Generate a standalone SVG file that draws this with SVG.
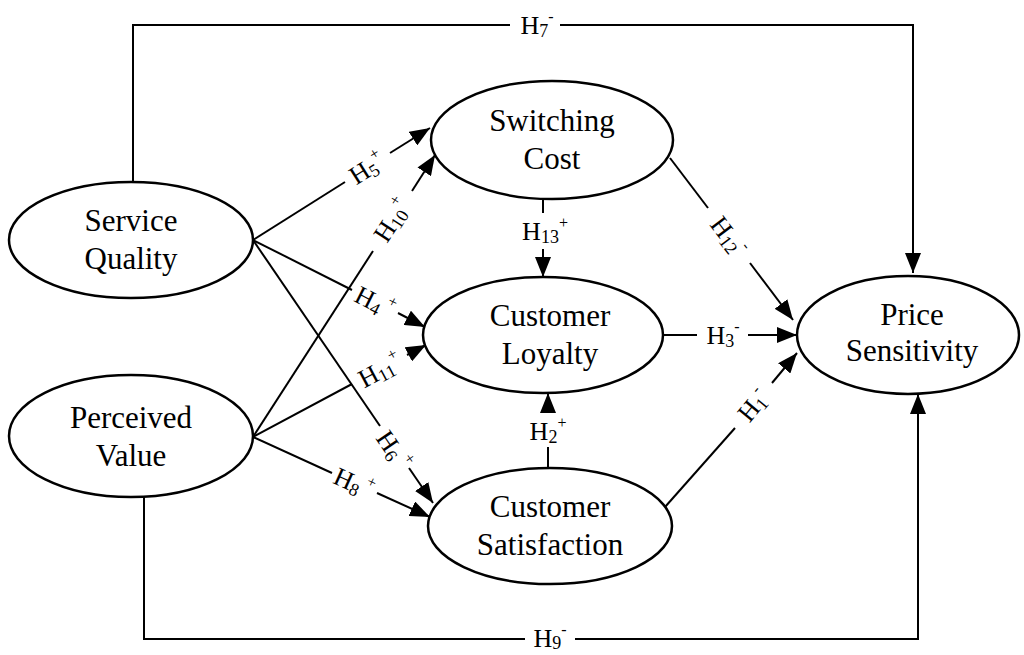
<svg xmlns="http://www.w3.org/2000/svg" width="1024" height="655" viewBox="0 0 1024 655">
  <style>
    .node ellipse { fill: #ffffff; stroke: #000000; stroke-width: 2.5; }
    .node text { font-family: "Liberation Serif", "Times New Roman", serif; font-size: 31px; fill: #000000; text-anchor: middle; }
    .edges line, .edges path { stroke: #000000; stroke-width: 2; fill: none; }
    .lbl { font-family: "Liberation Serif", "Times New Roman", serif; font-size: 26px; fill: #000000; text-anchor: middle; }
    .sub { font-size: 18px; }
    .sup { font-size: 16px; }
  </style>
  <defs>
    <marker id="arrow" markerUnits="userSpaceOnUse" markerWidth="20" markerHeight="16" refX="20" refY="8" orient="auto">
      <path d="M0,0 L20,8 L0,16 Z" fill="#000000"/>
    </marker>
  </defs>
  <rect width="1024" height="655" fill="#ffffff"/>

  <!-- connectors -->
  <g class="edges">
    <!-- H7: Service Quality to Price Sensitivity over the top -->
    <path d="M133,182 V25 H510"/>
    <path d="M560,25 H913 V273" marker-end="url(#arrow)"/>
    <!-- H9: Perceived Value to Price Sensitivity along the bottom -->
    <path d="M144,497 V639 H525"/>
    <path d="M575,639 H918 V394" marker-end="url(#arrow)"/>
    <!-- H5 -->
    <line x1="253" y1="240" x2="345" y2="182"/>
    <line x1="390" y1="153" x2="430" y2="128" marker-end="url(#arrow)"/>
    <!-- H10 -->
    <line x1="253" y1="437" x2="373" y2="251"/>
    <line x1="412" y1="191" x2="435" y2="155" marker-end="url(#arrow)"/>
    <!-- H4 -->
    <line x1="253" y1="240" x2="352" y2="290"/>
    <line x1="398" y1="313" x2="425" y2="327" marker-end="url(#arrow)"/>
    <!-- H11 -->
    <line x1="253" y1="437" x2="352" y2="384"/>
    <line x1="407" y1="355" x2="426" y2="345" marker-end="url(#arrow)"/>
    <!-- H6 -->
    <line x1="253" y1="240" x2="380" y2="426"/>
    <line x1="409" y1="468" x2="433" y2="503" marker-end="url(#arrow)"/>
    <!-- H8 -->
    <line x1="253" y1="437" x2="332" y2="473"/>
    <line x1="377" y1="493" x2="430" y2="517" marker-end="url(#arrow)"/>
    <!-- H13 -->
    <line x1="543" y1="199" x2="543" y2="213"/>
    <line x1="543" y1="249" x2="543" y2="277" marker-end="url(#arrow)"/>
    <!-- H2 -->
    <line x1="548" y1="468" x2="548" y2="447"/>
    <line x1="548" y1="412" x2="548" y2="393" marker-end="url(#arrow)"/>
    <!-- H12 -->
    <line x1="670" y1="158" x2="708" y2="208"/>
    <line x1="750" y1="263" x2="793" y2="320" marker-end="url(#arrow)"/>
    <!-- H3 -->
    <line x1="663" y1="335" x2="697" y2="335"/>
    <line x1="748" y1="335" x2="797" y2="335" marker-end="url(#arrow)"/>
    <!-- H1 -->
    <line x1="665" y1="507" x2="735" y2="428"/>
    <line x1="772" y1="383" x2="797" y2="353" marker-end="url(#arrow)"/>
  </g>

  <!-- path labels -->
  <g id="labels">
    <text class="lbl" x="537" y="34">H<tspan class="sub" dy="3">7</tspan><tspan class="sup" dy="-15">-</tspan></text>
    <text class="lbl" x="550" y="647">H<tspan class="sub" dy="2">9</tspan><tspan class="sup" dy="-14">-</tspan></text>
    <text class="lbl" transform="translate(367,168) rotate(-32.3)" x="0" y="9">H<tspan class="sub" dy="3">5</tspan><tspan class="sup" dy="-15">+</tspan></text>
    <text class="lbl" transform="translate(392,220) rotate(-57)" x="0" y="9">H<tspan class="sub" dy="3">10</tspan><tspan class="sup" dy="-15">+</tspan></text>
    <text class="lbl" transform="translate(375,302) rotate(26.8)" x="0" y="9">H<tspan class="sub" dy="3">4</tspan><tspan class="sup" dy="-15"> +</tspan></text>
    <text class="lbl" transform="translate(380,370) rotate(-28)" x="0" y="9">H<tspan class="sub" dy="3">11</tspan><tspan class="sup" dy="-15">+</tspan></text>
    <text class="lbl" transform="translate(394,450) rotate(55.6)" x="0" y="9">H<tspan class="sub" dy="3">6</tspan><tspan class="sup" dy="-15"> +</tspan></text>
    <text class="lbl" transform="translate(354,483) rotate(24.3)" x="0" y="9">H<tspan class="sub" dy="3">8</tspan><tspan class="sup" dy="-15"> +</tspan></text>
    <text class="lbl" transform="translate(729,236) rotate(52.8)" x="0" y="9">H<tspan class="sub" dy="3">12</tspan><tspan class="sup" dy="-15">-</tspan></text>
    <text class="lbl" transform="translate(753,405) rotate(-50.4)" x="0" y="9">H<tspan class="sub" dy="3">1</tspan><tspan class="sup" dy="-15">-</tspan></text>
    <text class="lbl" x="545" y="240">H<tspan class="sub" dy="3">13</tspan><tspan class="sup" dy="-15">+</tspan></text>
    <text class="lbl" x="548" y="440">H<tspan class="sub" dy="3">2</tspan><tspan class="sup" dy="-15">+</tspan></text>
    <text class="lbl" x="723" y="344">H<tspan class="sub" dy="3">3</tspan><tspan class="sup" dy="-15">-</tspan></text>
  </g>

  <!-- constructs -->
  <g id="service-quality" class="node">
    <ellipse cx="131" cy="240" rx="122" ry="58"/>
    <text x="131" y="231">Service</text>
    <text x="131" y="269">Quality</text>
  </g>
  <g id="perceived-value" class="node">
    <ellipse cx="131" cy="436" rx="122" ry="61"/>
    <text x="131" y="428">Perceived</text>
    <text x="131" y="466">Value</text>
  </g>
  <g id="switching-cost" class="node">
    <ellipse cx="552" cy="140" rx="121" ry="59"/>
    <text x="552" y="131">Switching</text>
    <text x="552" y="169">Cost</text>
  </g>
  <g id="customer-loyalty" class="node">
    <ellipse cx="543" cy="335" rx="120" ry="58"/>
    <text x="550" y="326">Customer</text>
    <text x="550" y="364">Loyalty</text>
  </g>
  <g id="customer-satisfaction" class="node">
    <ellipse cx="550" cy="526" rx="122" ry="58"/>
    <text x="550" y="517">Customer</text>
    <text x="550" y="555">Satisfaction</text>
  </g>
  <g id="price-sensitivity" class="node">
    <ellipse cx="908" cy="335" rx="111" ry="59"/>
    <text x="912" y="325">Price</text>
    <text x="912" y="361">Sensitivity</text>
  </g>
</svg>
